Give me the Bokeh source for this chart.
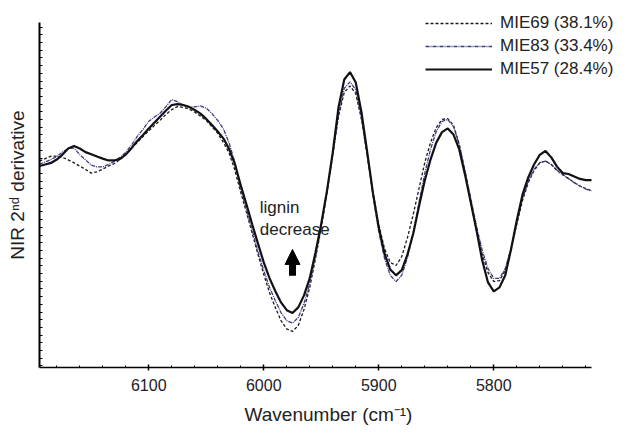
from bokeh.plotting import figure
from bokeh.models import Range1d, FixedTicker, Legend, LegendItem, Arrow, NormalHead
from bokeh.core.properties import value
from bokeh.embed import file_html
from bokeh.resources import INLINE

# Wavenumber sampling (cm-1)
wavenumber = [6195, 6190, 6185, 6180, 6175, 6170, 6165, 6160, 6155, 6150,
              6145, 6140, 6135, 6130, 6125, 6120, 6115, 6110, 6105, 6100,
              6095, 6090, 6085, 6080, 6075, 6070, 6065, 6060, 6055, 6050,
              6045, 6040, 6035, 6030, 6025, 6020, 6015, 6010, 6005, 6000,
              5995, 5990, 5985, 5980, 5975, 5970, 5965, 5960, 5955, 5950,
              5945, 5940, 5935, 5930, 5925, 5920, 5915, 5910, 5905, 5900,
              5895, 5890, 5885, 5880, 5875, 5870, 5865, 5860, 5855, 5850,
              5845, 5840, 5835, 5830, 5825, 5820, 5815, 5810, 5805, 5800,
              5795, 5790, 5785, 5780, 5775, 5770, 5765, 5760, 5755, 5750,
              5745, 5740, 5735, 5730, 5725, 5720, 5715]

mie69 = [6.15, 6.23, 6.31, 6.31, 6.27, 6.19, 6.09, 5.99, 5.88, 5.76,
         5.80, 5.89, 5.99, 6.07, 6.20, 6.36, 6.57, 6.75, 6.95, 7.13,
         7.31, 7.48, 7.67, 7.82, 7.92, 7.89, 7.84, 7.74, 7.61, 7.47,
         7.26, 7.05, 6.75, 6.40, 5.84, 5.13, 4.48, 3.80, 3.12, 2.47,
         1.88, 1.40, 0.97, 0.70, 0.62, 0.81, 1.33, 2.05, 2.99, 3.99,
         5.13, 6.36, 7.60, 8.38, 8.59, 8.34, 7.50, 6.33, 5.13, 4.09,
         3.31, 2.86, 2.76, 3.05, 3.67, 4.42, 5.26, 6.10, 6.75, 7.24,
         7.50, 7.53, 7.31, 6.69, 5.78, 4.81, 3.90, 3.12, 2.53, 2.24,
         2.27, 2.60, 3.28, 4.09, 4.87, 5.45, 5.84, 6.09, 6.15, 6.04,
         5.84, 5.71, 5.58, 5.45, 5.34, 5.26, 5.19]

mie83 = [6.05, 6.12, 6.20, 6.30, 6.44, 6.56, 6.57, 6.36, 6.19, 6.02,
         5.96, 5.96, 6.04, 6.14, 6.27, 6.43, 6.67, 6.95, 7.18, 7.44,
         7.58, 7.71, 7.92, 8.15, 8.08, 7.96, 7.91, 7.91, 7.94, 7.87,
         7.69, 7.47, 7.19, 6.72, 6.10, 5.23, 4.58, 3.90, 3.21, 2.60,
         2.05, 1.62, 1.23, 0.97, 0.89, 1.07, 1.53, 2.18, 3.05, 4.03,
         5.13, 6.36, 7.66, 8.51, 8.72, 8.47, 7.56, 6.33, 5.03, 3.86,
         2.99, 2.44, 2.24, 2.44, 3.02, 3.83, 4.81, 5.75, 6.53, 7.11,
         7.44, 7.50, 7.27, 6.69, 5.84, 4.94, 4.03, 3.25, 2.66, 2.34,
         2.34, 2.66, 3.31, 4.16, 4.94, 5.49, 5.88, 6.10, 6.15, 6.04,
         5.86, 5.71, 5.58, 5.45, 5.34, 5.24, 5.18]

mie57 = [5.99, 6.04, 6.09, 6.20, 6.36, 6.56, 6.64, 6.56, 6.44, 6.37,
         6.30, 6.23, 6.17, 6.17, 6.22, 6.36, 6.57, 6.80, 7.00, 7.21,
         7.40, 7.60, 7.79, 7.97, 8.00, 7.97, 7.91, 7.81, 7.69, 7.52,
         7.32, 7.11, 6.88, 6.53, 6.04, 5.36, 4.74, 4.09, 3.47, 2.86,
         2.35, 1.93, 1.56, 1.31, 1.22, 1.40, 1.79, 2.35, 3.18, 4.12,
         5.19, 6.43, 7.89, 8.80, 9.04, 8.70, 7.73, 6.43, 5.10, 3.99,
         3.15, 2.63, 2.44, 2.61, 3.12, 3.80, 4.68, 5.52, 6.20, 6.75,
         7.09, 7.21, 7.01, 6.53, 5.71, 4.81, 3.90, 2.92, 2.21, 1.92,
         2.05, 2.44, 3.28, 4.22, 5.06, 5.62, 6.04, 6.35, 6.48, 6.27,
         5.97, 5.76, 5.73, 5.65, 5.57, 5.53, 5.53]

labels = ["MIE69 (38.1%)", "MIE83 (33.4%)", "MIE57 (28.4%)"]
x_major = [6100, 6000, 5900, 5800]
x_minor = [6180, 6160, 6140, 6120, 6080, 6060, 6040, 6020, 5980, 5960, 5940,
           5920, 5880, 5860, 5840, 5820, 5780, 5760, 5740, 5720]
y_ticks = [-0.5, -0.25, 0, 0.25, 0.5, 0.75, 1, 1.25, 1.5, 1.75, 2, 2.25, 2.5,
           2.75, 3, 3.25, 3.5, 3.75, 4, 4.25, 4.5, 4.75, 5, 5.25, 5.5, 5.75,
           6, 6.25, 6.5, 6.75, 7, 7.25, 7.5, 7.75, 8, 8.25, 8.5, 8.75, 9,
           9.25, 9.5, 9.75, 10, 10.25, 10.5]

FONT = "Liberation Sans"

# the frame is a little larger than the axes so the legend can sit at top-right
p = figure(width=620, height=428, output_backend="svg", toolbar_location=None,
           x_range=Range1d(6195, 5692.4), y_range=Range1d(-0.552, 11.299),
           min_border_left=39, min_border_right=3, min_border_top=2,
           min_border_bottom=61)
p.outline_line_color = None
p.grid.visible = False
p.background_fill_color = "white"

r69 = p.line(wavenumber, mie69, line_color="#1a1a1a", line_width=1.3,
             line_dash="3 2")
r83 = p.line(wavenumber, mie83, line_color="#3b3b80", line_width=1.3,
             line_dash="4 1 1 1")
r57 = p.line(wavenumber, mie57, line_color="#111111", line_width=2.2)

# Axes
xa = p.xaxis[0]
xa.bounds = (5715, 6195)
xa.ticker = FixedTicker(ticks=x_major, minor_ticks=x_minor)
xa.axis_line_width = 1.5
xa.major_tick_in = 3
xa.major_tick_out = 3
xa.major_tick_line_width = 1.5
xa.minor_tick_in = 2
xa.minor_tick_out = 0
xa.major_label_text_font = FONT
xa.major_label_text_font_size = "16px"
xa.major_label_text_color = "#222222"
xa.major_label_standoff = 8
xa.axis_label = "Wavenumber (cm\u207b\u00b9)"
xa.axis_label_text_font = FONT
xa.axis_label_text_font_size = "19px"
xa.axis_label_text_font_style = "normal"
xa.axis_label_text_color = "#222222"
xa.axis_label_standoff = 10

ya = p.yaxis[0]
ya.bounds = (-0.552, 10.649)
ya.ticker = FixedTicker(ticks=[], minor_ticks=y_ticks)
ya.axis_line_width = 2
ya.minor_tick_in = 3
ya.minor_tick_out = 0
ya.axis_label = "NIR 2\u207f\u1d48 derivative"
ya.axis_label_text_font = FONT
ya.axis_label_text_font_size = "19px"
ya.axis_label_text_font_style = "normal"
ya.axis_label_text_color = "#222222"
ya.axis_label_standoff = 12

# Annotation
p.text(x=[6003.5], y=[4.95], text=["lignin\ndecrease"], text_font=value(FONT),
       text_font_size="17px", text_baseline="top", text_align="left",
       text_color="#222222", text_line_height=1.15)
p.add_layout(Arrow(end=NormalHead(size=15, fill_color="black", line_color="black"),
                   x_start=5975, y_start=2.43, x_end=5975, y_end=3.28,
                   line_width=7, line_color="black"))

legend = Legend(items=[LegendItem(label=labels[0], renderers=[r69]),
                       LegendItem(label=labels[1], renderers=[r83]),
                       LegendItem(label=labels[2], renderers=[r57])],
                location=(386, 288), glyph_width=67, glyph_height=20,
                label_height=20, spacing=3, padding=0, margin=0,
                label_standoff=8, border_line_color=None,
                background_fill_alpha=0, label_text_font=FONT,
                label_text_font_size="17px", label_text_color="#222222")
p.add_layout(legend)

open("out.html", "w").write(file_html(p, INLINE))
